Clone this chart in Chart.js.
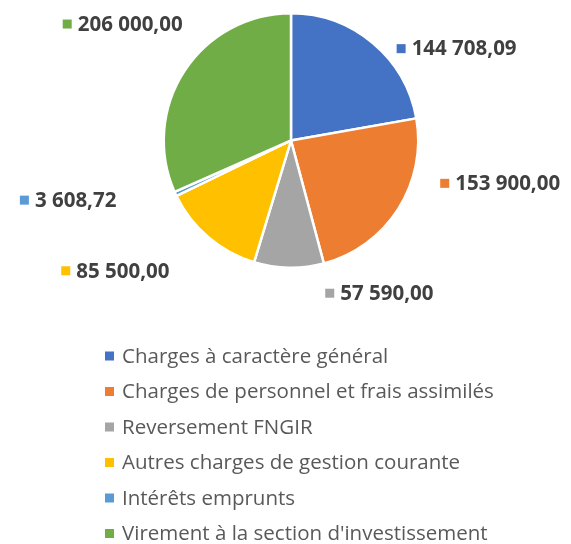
<!DOCTYPE html>
<html>
<head>
<meta charset="utf-8">
<script src="https://cdn.jsdelivr.net/npm/chart.js@4"></script>
<style>
  html, body { margin: 0; padding: 0; background: #fff; }
  #wrap { width: 571px; height: 544px; }
</style>
</head>
<body>
<div id="wrap"><canvas id="pieChart"></canvas></div>
<script>
const categories = [
    'Charges à caractère général',
    'Charges de personnel et frais assimilés',
    'Reversement FNGIR',
    'Autres charges de gestion courante',
    'Intérêts emprunts',
    "Virement à la section d'investissement",
];
const amounts = [144708.09, 153900.00, 57590.00, 85500.00, 3608.72, 206000.00];
const sliceColors = ['#4472C4', '#ED7D31', '#A5A5A5', '#FFC000', '#5B9BD5', '#70AD47'];

// nudge of each value label from the slice middle: angle (deg), distance (x radius), side
const labelPlace = [
    { da: 9, k: 1.10, side: 'right' },
    { da: -16.5, k: 1.22, side: 'right' },
    { da: -13.6, k: 1.23, side: 'right' },
    { da: 2.5, k: 1.40, side: 'left' },
    { da: 6, k: 1.45, side: 'left' },
    { da: 14, k: 1.25, side: 'left' },
];

function formatFr(v) {
    const parts = v.toFixed(2).split('.');
    const intPart = parts[0].replace(/\B(?=(\d{3})+(?!\d))/g, ' ');
    return intPart + ',' + parts[1];
}

const valueLabels = {
    id: 'valueLabels',
    afterDatasetsDraw(chart) {
        const ctx = chart.ctx;
        const arcs = chart.getDatasetMeta(0).data;
        ctx.save();
        ctx.font = 'bold 20.5px "Open Sans"';
        ctx.textBaseline = 'middle';
        arcs.forEach((arc, i) => {
            const p = labelPlace[i];
            const mid = (arc.startAngle + arc.endAngle) / 2 + p.da * Math.PI / 180;
            const ax = arc.x + Math.cos(mid) * arc.outerRadius * p.k;
            const ay = arc.y + Math.sin(mid) * arc.outerRadius * p.k;
            const text = formatFr(chart.data.datasets[0].data[i]);
            const tw = ctx.measureText(text).width;
            const start = p.side === 'right' ? ax : ax - tw - 15;
            ctx.fillStyle = sliceColors[i];
            ctx.fillRect(start, ay - 4.5, 9, 9);
            ctx.fillStyle = '#404040';
            ctx.textAlign = 'left';
            ctx.fillText(text, start + 15, ay + 1);
        });
        ctx.restore();
    },
};

const listLegend = {
    id: 'listLegend',
    afterDraw(chart) {
        const ctx = chart.ctx;
        ctx.save();
        ctx.font = '20.5px "Open Sans"';
        ctx.textBaseline = 'middle';
        ctx.textAlign = 'left';
        chart.data.labels.forEach((label, i) => {
            const y = 356 + i * 35.5;
            ctx.fillStyle = sliceColors[i];
            ctx.fillRect(105, y - 4.5, 9, 9);
            ctx.fillStyle = '#595959';
            ctx.fillText(label, 122, y + 1);
        });
        ctx.restore();
    },
};

const ctx = document.getElementById('pieChart').getContext('2d');
const chart = new Chart(ctx, {
    type: 'pie',
    data: {
        labels: categories,
        datasets: [{
            data: amounts,
            backgroundColor: sliceColors,
            borderColor: '#ffffff',
            borderWidth: 2.5,
        }],
    },
    options: {
        responsive: true,
        maintainAspectRatio: false,
        animation: false,
        layout: { padding: { top: 12, bottom: 275, left: 11, right: 0 } },
        plugins: {
            legend: { display: false },
            tooltip: { enabled: false },
        },
    },
    plugins: [valueLabels, listLegend],
});
</script>
</body>
</html>
